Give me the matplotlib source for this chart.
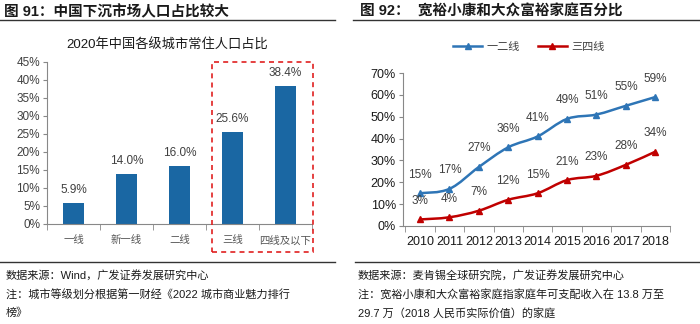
import numpy as np
import matplotlib.pyplot as plt
from matplotlib.patches import Rectangle
from matplotlib.path import Path
from matplotlib.patches import PathPatch
from matplotlib.lines import Line2D

plt.rcParams['font.family'] = ['Liberation Sans', 'Noto Sans CJK SC', 'DejaVu Sans']

# city tiers, 2020 resident population share
tiers = ['一线', '新一线', '二线', '三线', '四线及以下']
tier_share = [5.9, 14.0, 16.0, 25.6, 38.4]

# affluent households share by year
years = ['2010', '2011', '2012', '2013', '2014', '2015', '2016', '2017', '2018']
tier12 = [15, 17, 27, 36, 41, 49, 51, 55, 59]
tier34 = [3, 4, 7, 12, 15, 21, 23, 28, 34]

W, H = 700, 324
fig = plt.figure(figsize=(7, 3.24), dpi=100)


def box(l, t, r, b):
    return [l / W, 1 - b / H, (r - l) / W, (b - t) / H]


def hline(x0, x1, y, lw=1.0):
    fig.add_artist(Line2D([x0 / W, x1 / W], [1 - y / H, 1 - y / H],
                          color='#333333', lw=lw, transform=fig.transFigure))


def smooth_path(xs, ys, k=0.18):
    # cardinal-spline style bezier through the points
    pts = np.column_stack([xs, ys]).astype(float)
    verts = [pts[0]]
    codes = [Path.MOVETO]
    n = len(pts)
    for i in range(n - 1):
        p0 = pts[i - 1] if i > 0 else pts[i]
        p1, p2 = pts[i], pts[i + 1]
        p3 = pts[i + 2] if i + 2 < n else pts[i + 1]
        c1 = p1 + (p2 - p0) * k
        c2 = p2 - (p3 - p1) * k
        verts += [c1, c2, p2]
        codes += [Path.CURVE4] * 3
    return Path(verts, codes)


text_col = '#404040'

# headers
fig.text(4 / W, 1 - 12 / H, '图 91：中国下沉市场人口占比较大', fontsize=10.5,
         fontweight='bold', va='center', ha='left', color='#1a1a1a')
fig.text(360 / W, 1 - 12 / H, '图 92：  宽裕小康和大众富裕家庭百分比', fontsize=10.5,
         fontweight='bold', va='center', ha='left', color='#1a1a1a')
hline(0, 335, 20)
hline(353, 700, 20)
hline(0, 335, 262)
hline(355, 700, 262)

# left: bar chart
ax1 = fig.add_axes(box(47, 62, 312, 224))
x = np.arange(len(tiers))
ax1.bar(x, np.array(tier_share) / 100, width=0.38, color='#1a67a3')
for xi, v in zip(x, tier_share):
    ax1.annotate(f'{v:.1f}%', (xi, v / 100), xytext=(0, 5), textcoords='offset points',
                 ha='center', va='bottom', fontsize=8.5, color=text_col)
ax1.set_xlim(-0.5, 4.5)
ax1.set_ylim(0, 0.45)
ax1.set_yticks(np.arange(0, 0.46, 0.05))
ax1.set_yticklabels([f'{int(round(t * 100))}%' for t in np.arange(0, 0.46, 0.05)])
ax1.set_xticks(x)
ax1.set_xticklabels(tiers, fontsize=7.5, color='#555555')
ax1.set_xticks(np.arange(-0.5, 4.6, 1), minor=True)
ax1.tick_params(axis='x', which='major', length=0, pad=8)
ax1.tick_params(axis='x', which='minor', length=4, color='#888888')
ax1.tick_params(axis='y', labelsize=8.5, labelcolor=text_col, length=3, color='#888888', pad=2)
for s in ['top', 'right']:
    ax1.spines[s].set_visible(False)
ax1.spines['left'].set_color('#888888')
ax1.spines['bottom'].set_color('#888888')
fig.text(167 / W, 1 - 45 / H, '2020年中国各级城市常住人口占比', fontsize=9.5,
         ha='center', va='center', color='#1a1a1a')
fig.add_artist(Rectangle((212 / W, 1 - 252 / H), 101 / W, 190 / H, fill=False,
                         ec='#e02020', lw=1.2, ls=(0, (3, 2.5)), transform=fig.transFigure))

# right: line chart
ax2 = fig.add_axes(box(403, 73, 670, 226))
xs = np.arange(len(years))
blue, red = '#2e75b6', '#c00000'
for vals, col in [(tier12, blue), (tier34, red)]:
    yv = np.array(vals) / 100
    ax2.add_patch(PathPatch(smooth_path(xs, yv), fill=False, ec=col, lw=1.8))
    ax2.plot(xs, yv, ls='none', marker='^', ms=5, color=col)
    for xi, v in zip(xs, vals):
        ax2.annotate(f'{v}%', (xi, v / 100), xytext=(0, 9), textcoords='offset points',
                     ha='center', va='bottom', fontsize=8.5, color=text_col)
ax2.set_xlim(-0.58, 8.5)
ax2.set_ylim(0, 0.70)
ax2.set_yticks(np.arange(0, 0.71, 0.1))
ax2.set_yticklabels([f'{int(round(t * 100))}%' for t in np.arange(0, 0.71, 0.1)])
ax2.set_xticks(xs)
ax2.set_xticklabels(years)
ax2.set_xticks(np.arange(-0.5, 8.6, 1), minor=True)
ax2.tick_params(axis='x', which='major', length=0, pad=7, labelsize=9, labelcolor='#1a1a1a')
ax2.tick_params(axis='x', which='minor', length=4, color='#888888')
ax2.tick_params(axis='y', labelsize=9, labelcolor='#1a1a1a', length=3, color='#888888', pad=2)
for s in ['top', 'right']:
    ax2.spines[s].set_visible(False)
ax2.spines['left'].set_color('#888888')
ax2.spines['bottom'].set_color('#888888')

handles = [Line2D([], [], color=blue, lw=1.8, marker='^', ms=4),
           Line2D([], [], color=red, lw=1.8, marker='^', ms=4)]
fig.legend(handles, ['一二线', '三四线'], loc='center', bbox_to_anchor=(529 / W, 1 - 47 / H),
           ncol=2, frameon=False, fontsize=8, handlelength=2.6, columnspacing=1.6,
           handletextpad=0.4, labelcolor=text_col)

# footnotes
foot = dict(fontsize=8, va='center', ha='left', color='#1a1a1a')
fig.text(6 / W, 1 - 275 / H, '数据来源：Wind，广发证券发展研究中心', **foot)
fig.text(6 / W, 1 - 294 / H, '注：城市等级划分根据第一财经《2022 城市商业魅力排行', **foot)
fig.text(6 / W, 1 - 313 / H, '榜》', **foot)
fig.text(358 / W, 1 - 275 / H, '数据来源：麦肯锡全球研究院，广发证券发展研究中心', **foot)
fig.text(358 / W, 1 - 294 / H, '注：宽裕小康和大众富裕家庭指家庭年可支配收入在 13.8 万至', **foot)
fig.text(358 / W, 1 - 313 / H, '29.7 万（2018 人民币实际价值）的家庭', **foot)

fig.savefig('out.png', dpi=100)
